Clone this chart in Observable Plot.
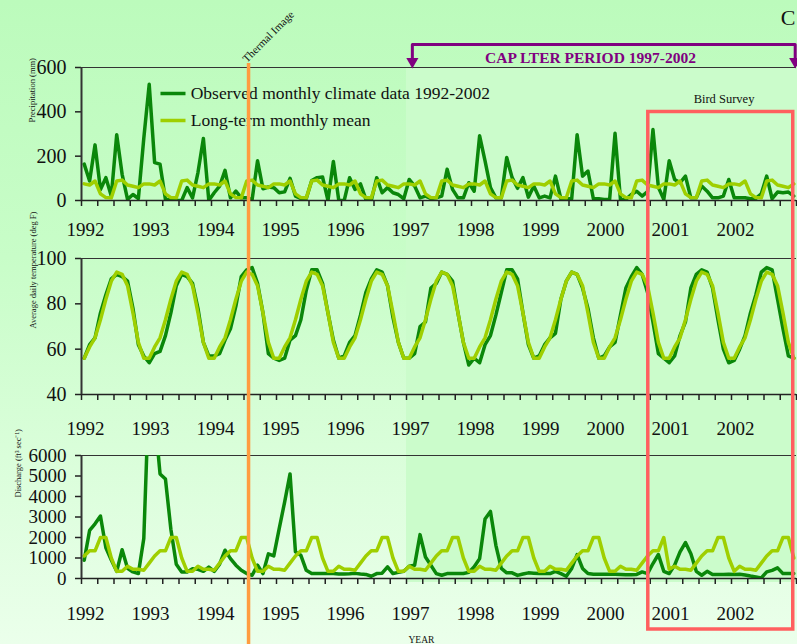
<!DOCTYPE html>
<html>
<head>
<meta charset="utf-8">
<script src="https://cdn.jsdelivr.net/npm/d3@7"></script>
<script src="https://cdn.jsdelivr.net/npm/@observablehq/plot@0.6"></script>
<style>
  html, body { margin: 0; padding: 0; }
  body { width: 797px; height: 644px; overflow: hidden; }
  #chart { position: relative; width: 797px; height: 644px;
    background: linear-gradient(to bottom, #bcfbbc 0%, #c8fdc8 40%, #ebffeb 100%); }
  #chart svg { position: absolute; left: 0; top: 0; }
</style>
</head>
<body>
<div id="chart"></div>
<script>
// ---------- data ----------
const years = [1992, 1993, 1994, 1995, 1996, 1997, 1998, 1999, 2000, 2001, 2002];
const monthNames = ["Jan","Feb","Mar","Apr","May","Jun","Jul","Aug","Sep","Oct","Nov","Dec"];

// Precipitation (mm), observed monthly 1992-2002
const precipObs = [
  164, 88, 251, 50, 103, 20, 297, 118, 5, 27, 9, 280,
  524, 171, 164, 5, 5, 0, 0, 58, 12, 126, 280, 0,
  35, 65, 136, 12, 42, 12, 12, 5, 179, 53, 61, 58,
  35, 39, 100, 20, 9, 9, 90, 103, 106, 0, 176, 0,
  0, 103, 50, 75, 5, 0, 103, 35, 58, 35, 27, 8,
  95, 65, 12, 20, 9, 12, 20, 141, 50, 12, 12, 80,
  42, 292, 179, 58, 12, 12, 194, 103, 55, 103, 15, 65,
  12, 20, 12, 110, 8, 8, 8, 297, 110, 133, 8, 8,
  5, 5, 303, 5, 5, 27, 42, 20, 40, 320, 60, 5,
  179, 95, 80, 110, 12, 12, 65, 42, 12, 12, 20, 95,
  12, 12, 12, 8, 10, 30, 110, 8, 38, 35, 38, 20
];
// Precipitation long-term monthly mean (Jan..Dec)
const precipMeanMonthly = [75, 70, 88, 30, 13, 12, 88, 92, 70, 64, 58, 75];

// Average daily temperature (deg F), observed monthly
const tempObs = [
  56, 62, 65, 76, 84, 91, 93, 92, 90, 78, 62, 57,
  54, 58, 59, 66, 76, 88, 93, 92, 89, 78, 63, 57,
  57, 58, 64, 69, 79, 92, 95, 96, 89, 76, 58, 56,
  55, 56, 64, 66, 73, 86, 95, 95, 89, 76, 64, 56,
  57, 63, 66, 75, 85, 91, 95, 94, 88, 74, 63, 56,
  56, 58, 70, 72, 87, 89, 94, 93, 90, 76, 63, 53,
  56, 54, 62, 66, 75, 85, 95, 95, 91, 76, 62, 56,
  57, 62, 65, 67, 82, 90, 94, 93, 87, 78, 65, 56,
  57, 61, 63, 75, 87, 92, 96, 93, 85, 72, 58, 56,
  54, 57, 66, 72, 87, 93, 95, 94, 87, 73, 60, 54,
  55, 60, 66, 76, 84, 94, 96, 95, 82, 69, 57, 56
];
// Temperature long-term monthly mean (Jan..Dec)
const tempMeanMonthly = [56, 61, 65, 73, 82, 90, 94, 93, 88, 76, 63, 56];

// Discharge (ft3/s), observed monthly
const dischargeObs = [
  890, 2350, 2670, 3050, 1500, 900, 350, 1400, 500, 320, 240, 1950,
  9500, 8000, 5100, 4850, 2400, 700, 320, 320, 480, 450, 350, 560,
  350, 700, 1380, 970, 650, 400, 240, 160, 650, 240, 1200, 1100,
  2430, 3730, 5100, 1300, 1130, 400, 240, 240, 250, 250, 240, 220,
  220, 230, 250, 220, 200, 110, 240, 260, 570, 240, 300, 350,
  600, 650, 2140, 1050, 650, 240, 160, 240, 240, 240, 240, 300,
  570, 970, 2900, 3270, 1620, 490, 275, 275, 150, 220, 275, 260,
  240, 240, 240, 350, 240, 110, 490, 1170, 490, 240, 210, 210,
  210, 210, 210, 200, 180, 180, 200, 320, 240, 730, 1170, 350,
  240, 650, 1300, 1750, 1210, 350, 160, 350, 190, 190, 190, 210,
  200, 210, 170, 120, 80, 30, 320, 400, 520, 240, 240, 240
];
// Discharge long-term mean as plotted (monthly, 1992-2002)
const dischargeMean = [
  1100, 1350, 1350, 2000, 2000, 1000, 350, 350, 600, 450, 450, 400,
  750, 1100, 1350, 1350, 2000, 2000, 1000, 350, 350, 600, 450, 450,
  400, 750, 1100, 1350, 1350, 2000, 2000, 1000, 350, 350, 600, 450,
  450, 400, 750, 1100, 1350, 1350, 2000, 2000, 1000, 350, 350, 600,
  450, 450, 400, 750, 1100, 1350, 1350, 2000, 2000, 1000, 350, 350,
  600, 450, 450, 400, 750, 1100, 1350, 1350, 2000, 2000, 1000, 350,
  350, 600, 450, 450, 400, 750, 1100, 1350, 1350, 2000, 2000, 1000,
  350, 350, 600, 450, 450, 400, 750, 1100, 1350, 1350, 2000, 2000,
  1000, 350, 350, 600, 450, 450, 400, 750, 1100, 1350, 1350, 2000,
  450, 600, 450, 450, 400, 750, 1100, 1350, 1350, 2000, 2000, 1000,
  350, 600, 450, 450, 400, 750, 1100, 1350, 1350, 2000, 2000, 1000
];

const precipTicks = [0, 200, 400, 600];
const tempTicks = [40, 60, 80, 100];
const dischargeTicks = [0, 1000, 2000, 3000, 4000, 5000, 6000];

const legendLabels = ["Observed monthly climate data 1992-2002", "Long-term monthly mean"];
const thermalImageDate = 1994.57;
const birdSurvey = [2000.72, 2002.95];
const capPeriod = [1997.09, 2002.98];

// ---------- layout / style ----------
const W = 797, H = 644, X0 = 81, X1 = 796;
const SERIF = "'Liberation Serif', 'Times New Roman', serif";
const OBS = "#0a870a", MEAN = "#9fcf00";
const tOf = i => 1992 + (i + 0.5) / 12;   // category centre of month i
const rows = arr => arr.map((v, i) => ({t: tOf(i), v}));
const monthlyRows = m => years.flatMap((y, k) => m.map((v, j) => ({t: tOf(k * 12 + j), v})));
const quarterTicks = d3.range(1992, 2003.01, 0.25);

const chart = document.getElementById("chart");

// background highlight (CAP LTER period)
chart.appendChild(Plot.plot({
  width: W, height: H, margin: 0,
  style: {background: "transparent", overflow: "visible"},
  x: {domain: [1992, 2003], range: [X0, X1], axis: null},
  y: {domain: [0, H], range: [0, H], axis: null},
  marks: [
    Plot.rect([{x1: 1997, x2: 2003.03, y1: 67, y2: 582}], {x1: "x1", x2: "x2", y1: "y1", y2: "y2", fill: "#cbfccb"})
  ]
}));

function panel(cfg) {
  return Plot.plot({
    width: W, height: H,
    marginLeft: X0, marginRight: W - X1, marginTop: cfg.top, marginBottom: H - cfg.bottom,
    style: {background: "transparent", fontFamily: SERIF, color: "#111", overflow: "visible"},
    x: {domain: [1992, 2003]},
    y: {domain: cfg.domain},
    marks: [
      Plot.ruleY([cfg.domain[1]], {stroke: "#333", strokeWidth: 1.2}),
      Plot.axisX(quarterTicks, {anchor: "bottom", tickSize: 6, tickFormat: () => "", label: null, stroke: "#222", strokeWidth: 1.5}),
      Plot.axisX(years, {anchor: "bottom", tickSize: 0, tickPadding: cfg.yearPad, dx: 4, fontSize: 19, tickFormat: d => String(d), label: null, fill: "#111"}),
      Plot.axisY(cfg.ticks, {anchor: "left", tickSize: 6, tickPadding: cfg.pad || 9, fontSize: cfg.fs, label: null, stroke: "#222", strokeWidth: 1.5, fill: "#111", tickFormat: d => String(d)}),
      Plot.line(rows(cfg.obs), {x: "t", y: "v", stroke: OBS, strokeWidth: 3.5, clip: true}),
      Plot.line(cfg.mean, {x: "t", y: "v", stroke: MEAN, strokeWidth: 3.5, clip: true}),
      Plot.ruleY([cfg.domain[0]], {stroke: "#222", strokeWidth: 1.5}),
      Plot.ruleX([1992], {stroke: "#333", strokeWidth: 2})
    ]
  });
}

chart.appendChild(panel({top: 67, bottom: 200, domain: [0, 600], ticks: precipTicks, fs: 20, yearPad: 22,
  obs: precipObs, mean: monthlyRows(precipMeanMonthly)}));
chart.appendChild(panel({top: 258, bottom: 394, domain: [40, 100], ticks: tempTicks, fs: 20, yearPad: 27,
  obs: tempObs, mean: monthlyRows(tempMeanMonthly)}));
chart.appendChild(panel({top: 455, bottom: 578, domain: [0, 6000], ticks: dischargeTicks, fs: 19, pad: 9, yearPad: 28,
  obs: dischargeObs, mean: rows(dischargeMean)}));

// ---------- annotations ----------
const legendRows = legendLabels.map((s, k) => ({s, y: 93 + k * 27, c: k ? MEAN : OBS}));
chart.appendChild(Plot.plot({
  width: W, height: H, margin: 0,
  style: {background: "transparent", fontFamily: SERIF, color: "#111", overflow: "visible"},
  x: {domain: [1992, 2003], range: [X0, X1], axis: null},
  y: {domain: [0, H], range: [0, H], axis: null},
  marks: [
    // legend
    Plot.link(legendRows, {x1: 1993.215, x2: 1993.6, y1: "y", y2: "y", stroke: "c", strokeWidth: 3.5}),
    Plot.text(legendRows, {x: 1993.68, y: "y", text: "s", textAnchor: "start", fontSize: 17.5, fill: "#111"}),
    // thermal image
    Plot.ruleX([thermalImageDate], {y1: 63, y2: H, stroke: "#ff9c40", strokeWidth: 3.5}),
    Plot.text([{x: thermalImageDate, y: 62, s: "Thermal Image"}], {x: "x", y: "y", text: "s", rotate: -45, textAnchor: "start", fontSize: 11, dx: -4, dy: -2, fill: "#111"}),
    // bird survey
    Plot.rect([{x1: birdSurvey[0], x2: birdSurvey[1], y1: 111.5, y2: 629}], {x1: "x1", x2: "x2", y1: "y1", y2: "y2", fill: "none", stroke: "#ff5f5f", strokeWidth: 3.5}),
    Plot.text([{x: (birdSurvey[0] + birdSurvey[1]) / 2 + 0.05, y: 98, s: "Bird Survey"}], {x: "x", y: "y", text: "s", fontSize: 12.5, fill: "#111"}),
    // CAP LTER bracket
    Plot.line([{x: capPeriod[0], y: 58}, {x: capPeriod[0], y: 44}, {x: capPeriod[1], y: 44}, {x: capPeriod[1], y: 58}], {x: "x", y: "y", stroke: "#800080", strokeWidth: 3}),
    Plot.dot([{x: capPeriod[0], y: 61}, {x: capPeriod[1], y: 61}], {x: "x", y: "y", symbol: "triangle", r: 4.5, fill: "#800080", rotate: 180}),
    Plot.text([{x: 1999.83, y: 58, s: "CAP LTER PERIOD 1997-2002"}], {x: "x", y: "y", text: "s", fontSize: 15.5, fontWeight: "bold", fill: "#800080"}),
    // axis titles
    Plot.text(["Precipitation (mm)"], {text: d => d, frameAnchor: "top-left", dx: 28, dy: 122, rotate: -90, fontSize: 8.5, fill: "#111"}),
    Plot.text(["Average daily temperature (deg F)"], {text: d => d, frameAnchor: "top-left", dx: 29, dy: 328, rotate: -90, fontSize: 8.5, fill: "#111"}),
    Plot.text(["Discharge (ft³ sec⁻¹)"], {text: d => d, frameAnchor: "top-left", dx: 14, dy: 497, rotate: -90, fontSize: 8.5, fill: "#111"}),
    Plot.text(["YEAR"], {text: d => d, frameAnchor: "top-left", dx: 408, dy: 636, fontSize: 9.5, fill: "#111"}),
    Plot.text(["C"], {text: d => d, frameAnchor: "top-left", dx: 795, dy: 9, textAnchor: "end", fontSize: 22, fill: "#111"})
  ]
}));
</script>
</body>
</html>
